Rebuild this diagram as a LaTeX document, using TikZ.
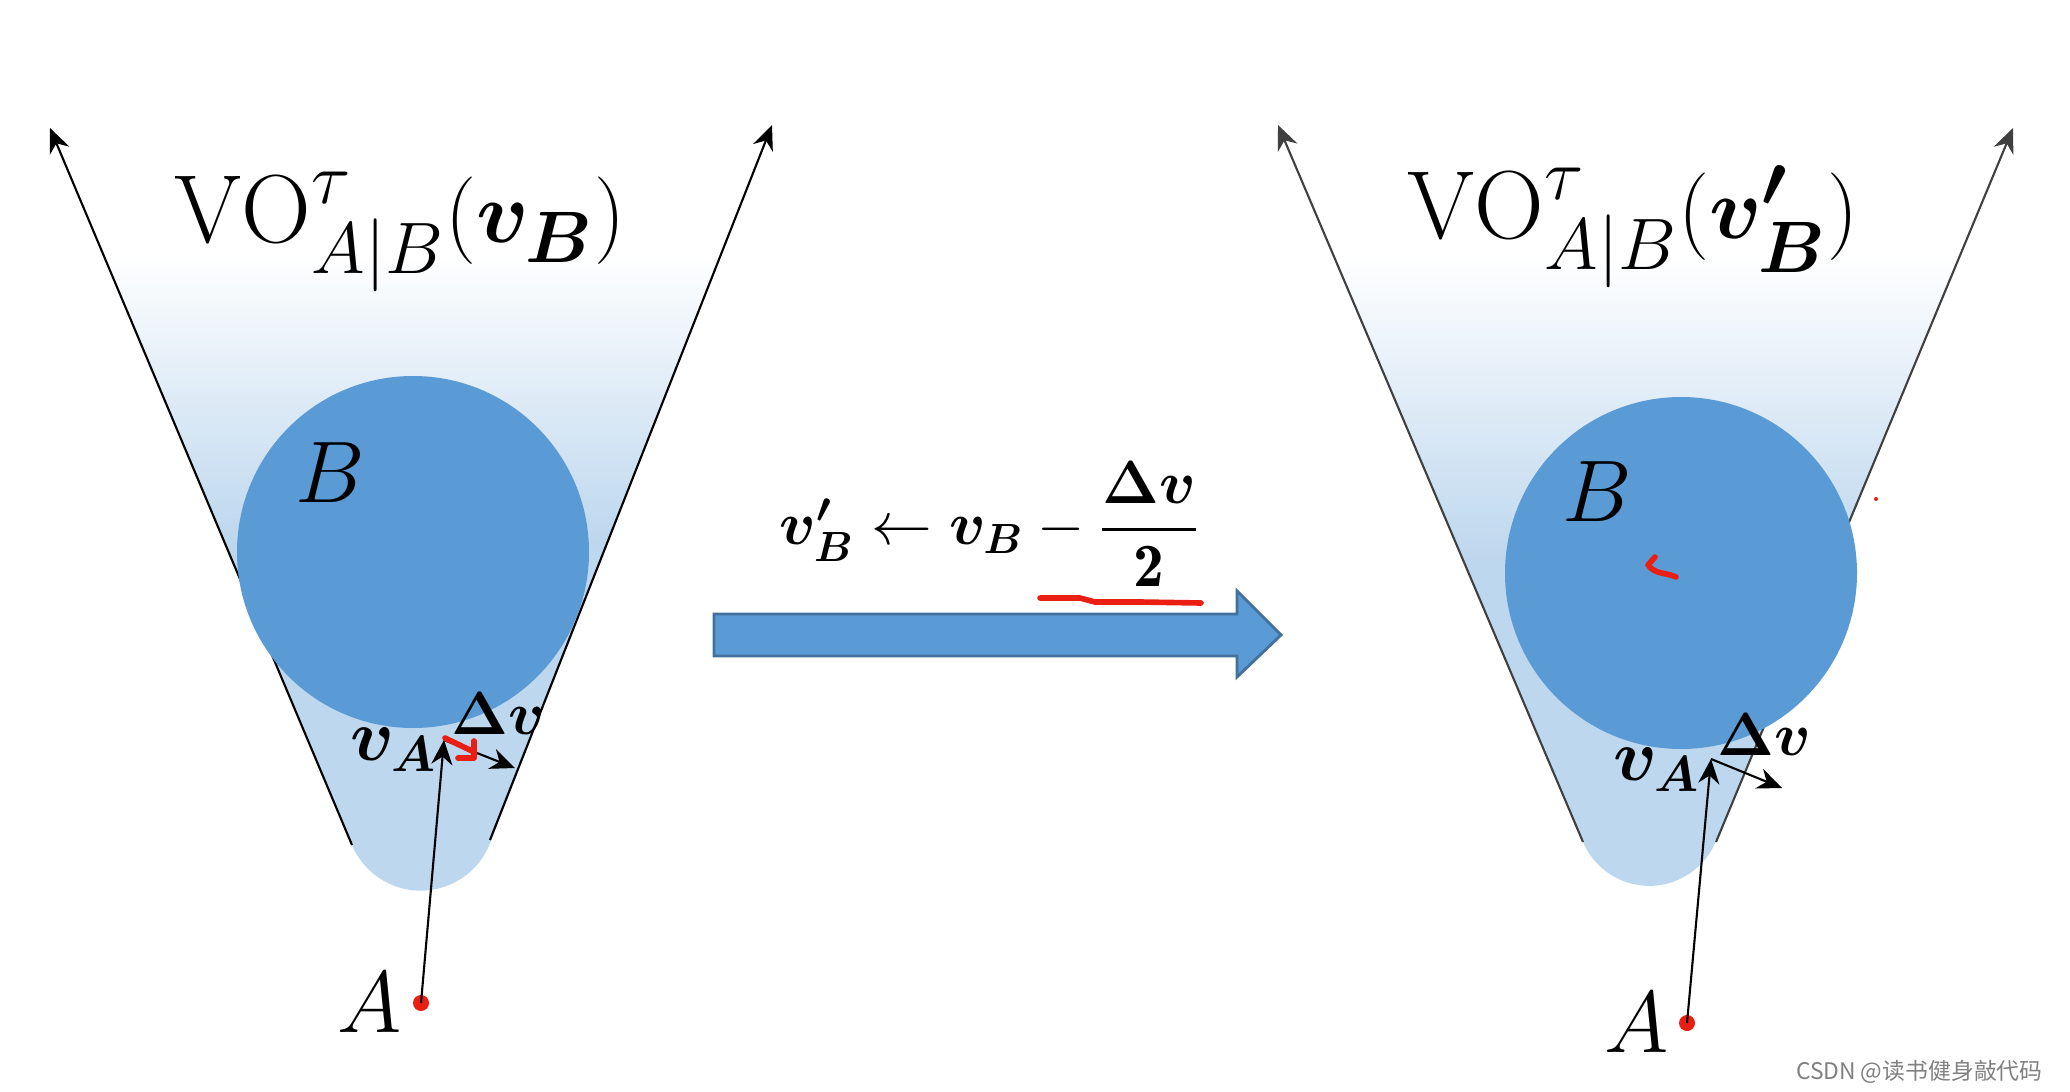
\documentclass[tikz,border=0pt]{standalone}
\usepackage{amsmath}
\usepackage{amssymb}
\usepackage{bm}
\usepackage{fontspec}
\newfontfamily\cjkfont{Noto Sans CJK SC}
\usetikzlibrary{calc}
\usetikzlibrary{arrows.meta}

\definecolor{diskblue}{RGB}{91,155,213}
\definecolor{conefill}{RGB}{189,215,238}
\definecolor{arrowedge}{RGB}{65,113,156}
\definecolor{markred}{RGB}{235,30,20}

\tikzset{
  ray/.style={->,line width=0.6pt},
  vel/.style={->,line width=0.6pt},
  disk/.style={fill=diskblue},
  adot/.style={circle,fill=markred,inner sep=0pt,minimum size=0.16cm},
  scrawl/.style={markred,line width=1.6pt,line cap=round,line join=round},
  biglabel/.style={font=\fontsize{26}{30}\selectfont},
  titlelabel/.style={font=\fontsize{27.5}{32}\selectfont},
  vlabel/.style={font=\fontsize{20}{24}\selectfont},
  dvlabel/.style={font=\fontsize{18}{22}\selectfont},
}

\begin{document}
\begin{tikzpicture}[>={Stealth[length=7pt,width=6pt]},x=0.01cm,y=-0.01cm]
\useasboundingbox (0,0) rectangle (2070,1091);

% left cone
\coordinate (l-tip1) at (50,128);
\coordinate (l-end1) at (352,845);
\coordinate (l-tip2) at (772,125);
\coordinate (l-end2) at (490,840);
\begin{scope}
  \clip (l-tip1) -- (l-end1) arc[start angle=157.2,end angle=21.5,radius=74.5] -- (l-tip2) -- cycle;
  \fill[conefill] (0,540) rectangle (1000,1000);
  \shade[top color=white,bottom color=conefill] (0,255) rectangle (1000,541);
\end{scope}
\draw[ray] (l-end1) -- (l-tip1);
\draw[ray] (l-end2) -- (l-tip2);
\fill[disk] (413,552) circle (176);

\node[titlelabel] (l-title) at (400,232) {$\mathrm{VO}^{\tau}_{A|B}(\boldsymbol{v_B})$};
\node[biglabel] (l-B) at (330,473) {$B$};
\node[biglabel] (l-Alab) at (370,1003) {$A$};
\node[adot] (l-A) at (421,1003) {};
\coordinate (l-vA) at (444,740);
\coordinate (l-dv) at (515,768);
\draw[vel] (l-A.center) -- (l-vA);
\draw[vel] (l-vA) -- (l-dv);
\node[vlabel] (l-vAlab) at (394,750) {$\boldsymbol{v_A}$};
\node[dvlabel] (l-dvlab) at (498,714) {$\boldsymbol{\Delta v}$};
\draw[scrawl] (445,738) -- (472,751);
\draw[scrawl] (474,741) -- (474,758) -- (458,758);

% update rule and arrow
\node[font=\fontsize{17.5}{21}\selectfont] (rule) at (990,524)
  {$\boldsymbol{v'_B}\leftarrow\boldsymbol{v_B}-\dfrac{\boldsymbol{\Delta v}}{\mathbf{2}}$};
\filldraw[fill=diskblue,draw=arrowedge,line width=0.8pt]
  (714,614) -- (1237,614) -- (1237,591) -- (1281,635) -- (1237,677) -- (1237,656) -- (714,656) -- cycle;
\draw[scrawl] (1040,598) -- (1080,598) -- (1095,602) -- (1140,602) -- (1201,603);

% right cone
\coordinate (r-tip1) at (1278,125);
\coordinate (r-end1) at (1583,842);
\coordinate (r-tip2) at (2013,128);
\coordinate (r-end2) at (1716,842);
\begin{scope}
  \clip (r-tip1) -- (r-end1) arc[start angle=157,end angle=22.6,radius=72] -- (r-tip2) -- cycle;
  \fill[conefill] (1000,560) rectangle (2070,1000);
  \shade[top color=white,bottom color=conefill] (1000,255) rectangle (2070,561);
\end{scope}
\draw[ray,black!75] (r-end1) -- (r-tip1);
\draw[ray,black!75] (r-end2) -- (r-tip2);
\fill[disk] (1681,573) circle (176);

\node[titlelabel] (r-title) at (1633,227) {$\mathrm{VO}^{\tau}_{A|B}(\boldsymbol{v'_B})$};
\node[biglabel] (r-B) at (1597,492) {$B$};
\node[biglabel] (r-Alab) at (1637,1023) {$A$};
\node[adot] (r-A) at (1687,1023) {};
\coordinate (r-vA) at (1711,759);
\coordinate (r-dv) at (1782,788);
\draw[vel] (r-A.center) -- (r-vA);
\draw[vel] (r-vA) -- (r-dv);
\node[vlabel] (r-vAlab) at (1657,770) {$\boldsymbol{v_A}$};
\node[dvlabel] (r-dvlab) at (1764,735) {$\boldsymbol{\Delta v}$};
\draw[scrawl] (1655,557) -- (1648,565) .. controls (1656,575) and (1665,572) .. (1676,577);
\fill[markred] (1876,499) circle (2);

\node[font=\cjkfont\fontsize{6.5}{8}\selectfont,text=gray,anchor=east] (mark) at (2055,1072) {CSDN @读书健身敲代码};
\end{tikzpicture}
\end{document}
